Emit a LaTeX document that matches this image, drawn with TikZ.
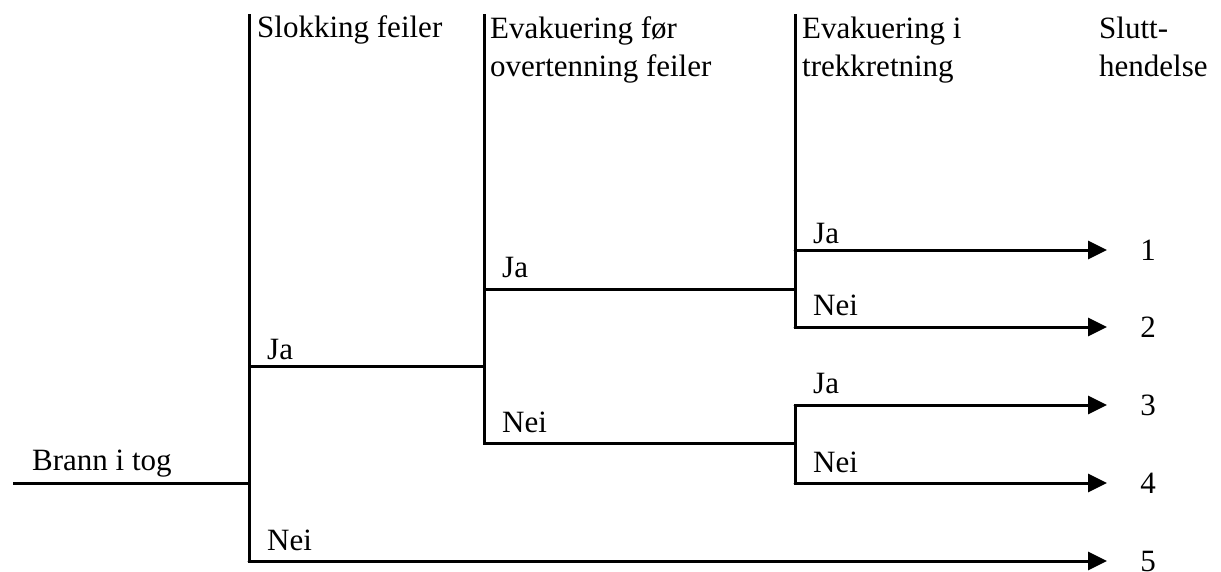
\documentclass[tikz,border=0pt]{standalone}
\usepackage{tkz-euclide}
\usepackage{fontspec}
\setmainfont{Liberation Serif}
\usetikzlibrary{arrows.meta}
\tikzset{gren/.style={line width=3pt,line cap=rect},
         pil/.style={line width=3pt,-{Triangle[length=19pt,width=18pt]}},
         tekst/.style={anchor=base west,inner sep=0pt,align=left},
         every node/.style={font=\fontsize{31}{38}\selectfont}}

\begin{document}
\begin{tikzpicture}[x=1pt,y=-1pt]
          \useasboundingbox (0,0) rectangle (1221,571);
         \tkzDefPoint(14,483){A}\tkzDefPoint(249,483){B}
         \tkzDefPoint(249,15){C}\tkzDefPoint(249,561){D}\tkzDefPoint(249,366){E}
         \tkzDefPoint(484,366){F}\tkzDefPoint(484,15){G}
         \tkzDefPoint(484,289){H}\tkzDefPoint(484,443){I}
         \tkzDefPoint(795,15){K}\tkzDefPoint(795,250){L}\tkzDefPoint(795,289){J}
         \tkzDefPoint(795,327){M}\tkzDefPoint(795,405){P}
         \tkzDefPoint(795,443){N}\tkzDefPoint(795,483){Q}
         \tkzDefPoint(1107,250){U1}\tkzDefPoint(1107,327){U2}
         \tkzDefPoint(1107,405){U3}\tkzDefPoint(1107,483){U4}
         \tkzDefPoint(1107,561){U5}
          \tkzDrawSegments[gren](A,B C,D E,F G,I H,J I,N K,M P,Q)
          \tkzDrawSegments[pil](L,U1 M,U2 P,U3 Q,U4 D,U5)
          \node[tekst] (brann) at (32,470) {Brann i tog};
          \node[tekst] (slokking) at (257,37) {Slokking feiler};
          % two-line heads sit on the baseline of their last line
          \node[tekst] (evakfor) at (490,76) {Evakuering før\\overtenning feiler};
          \node[tekst] (evaktrekk) at (802,76) {Evakuering i\\trekkretning};
          \node[tekst] (slutt) at (1099,76) {Slutt-\\hendelse};
          \node[tekst] (ja1) at (267,359) {Ja};\node[tekst] (nei1) at (267,550) {Nei};
          \node[tekst] (ja2) at (502,277) {Ja};\node[tekst] (nei2) at (502,432) {Nei};
          \node[tekst] (ja3) at (813,243) {Ja};\node[tekst] (nei3) at (813,315) {Nei};
          \node[tekst] (ja4) at (813,393) {Ja};\node[tekst] (nei4) at (813,472) {Nei};
          \foreach \k/\y in {1/250,2/327,3/405,4/483,5/561}
             \node[inner sep=0pt] (s\k) at (1148,\y) {\k};
          \end{tikzpicture}
\end{document}
